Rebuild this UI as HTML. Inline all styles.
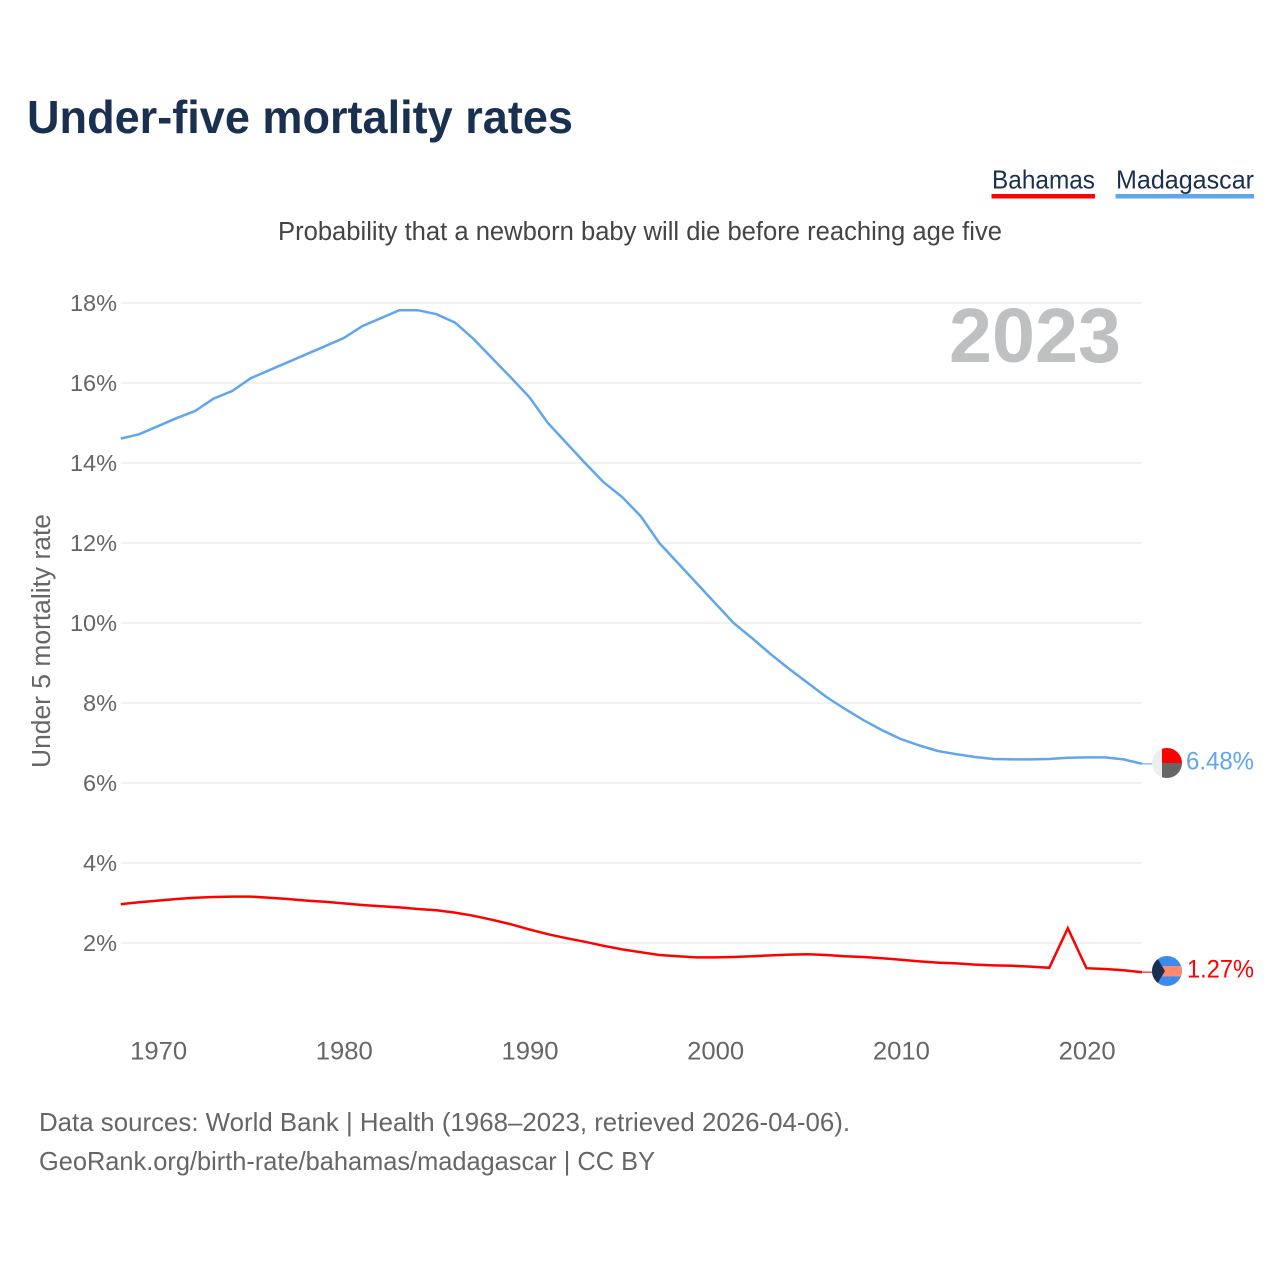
<!DOCTYPE html>
<html lang="en">
<head>
<meta charset="utf-8">
<title>Under-five mortality rates</title>
<style>
html,body{margin:0;padding:0;background:#fff;}
svg{display:block;font-family:"Liberation Sans",sans-serif;}
</style>
</head>
<body>
<svg id="chart" width="1280" height="1280" viewBox="0 0 1280 1280" xmlns="http://www.w3.org/2000/svg">
  <defs>
    <clipPath id="flag-clip-mg"><circle cx="1167" cy="763" r="15"/></clipPath>
    <clipPath id="flag-clip-bs"><circle cx="1167" cy="971" r="15"/></clipPath>
  </defs>
  <rect width="1280" height="1280" fill="#fff"/>
  <text x="27" y="133" font-size="46" font-weight="700" fill="#1a3050" textLength="546" lengthAdjust="spacingAndGlyphs">Under-five mortality rates</text>
  <text x="992" y="188.5" font-size="26" fill="#1a3050" textLength="103" lengthAdjust="spacingAndGlyphs">Bahamas</text>
  <rect x="991.5" y="194" width="103.5" height="4.5" fill="#ff0000"/>
  <text x="1116" y="188.5" font-size="26" fill="#1a3050" textLength="138" lengthAdjust="spacingAndGlyphs">Madagascar</text>
  <rect x="1115.5" y="194" width="138.5" height="4.5" fill="#60a5ee"/>
  <text x="278" y="240" font-size="25.5" fill="#444" textLength="724" lengthAdjust="spacingAndGlyphs">Probability that a newborn baby will die before reaching age five</text>
  <g id="grid"></g>
  <g id="y-ticks"></g>
  <g id="x-ticks"></g>
  <text transform="translate(50,768) rotate(-90)" font-size="25.5" fill="#666" textLength="254" lengthAdjust="spacingAndGlyphs">Under 5 mortality rate</text>
  <text x="949" y="362" font-size="77" font-weight="700" fill="#bfc0c2" textLength="172" lengthAdjust="spacingAndGlyphs">2023</text>
  <g id="series"></g>
  <g clip-path="url(#flag-clip-mg)">
    <rect x="1152" y="748" width="15" height="30" fill="#eeeeee"/>
    <rect x="1162" y="748" width="20" height="15" fill="#ff0000"/>
    <rect x="1162" y="763" width="20" height="15" fill="#666666"/>
  </g>
  <g clip-path="url(#flag-clip-bs)">
    <rect x="1152" y="956" width="30" height="30" fill="#3b8bee"/>
    <rect x="1152" y="966" width="30" height="10.5" fill="#ff8a6e"/>
    <polygon points="1152,956 1156,956 1165,971 1156,986 1152,986" fill="#1a3050"/>
  </g>
  <text x="1186" y="769.5" font-size="25" fill="#60a5ee" textLength="68" lengthAdjust="spacingAndGlyphs">6.48%</text>
  <text x="1187" y="977.5" font-size="25" fill="#ff0000" textLength="67" lengthAdjust="spacingAndGlyphs">1.27%</text>
  <text x="39" y="1131" font-size="26" fill="#666" textLength="811" lengthAdjust="spacingAndGlyphs">Data sources: World Bank | Health (1968–2023, retrieved 2026-04-06).</text>
  <text x="39" y="1170" font-size="26" fill="#666" textLength="616" lengthAdjust="spacingAndGlyphs">GeoRank.org/birth-rate/bahamas/madagascar | CC BY</text>
</svg>
<script>
const startYear = 1968;
const yTickValues = [2, 4, 6, 8, 10, 12, 14, 16, 18];
const xTickYears = [1970, 1980, 1990, 2000, 2010, 2020];
const madagascar = [14.61,14.72,14.92,15.12,15.30,15.61,15.80,16.12,16.32,16.52,16.72,16.92,17.12,17.42,17.62,17.82,17.82,17.72,17.51,17.10,16.62,16.14,15.65,15.00,14.50,14.00,13.52,13.15,12.67,12.00,11.50,11.00,10.50,10.00,9.62,9.22,8.85,8.50,8.15,7.85,7.57,7.32,7.10,6.94,6.80,6.72,6.65,6.60,6.59,6.59,6.60,6.63,6.64,6.64,6.59,6.48];
const bahamas = [2.97,3.02,3.06,3.10,3.13,3.15,3.16,3.16,3.13,3.10,3.06,3.03,2.99,2.95,2.92,2.89,2.85,2.82,2.76,2.68,2.58,2.47,2.34,2.22,2.12,2.03,1.93,1.84,1.77,1.70,1.67,1.64,1.64,1.65,1.67,1.69,1.71,1.72,1.70,1.67,1.65,1.62,1.58,1.54,1.51,1.49,1.46,1.44,1.43,1.41,1.38,2.37,1.37,1.35,1.32,1.27];

const NS = 'http://www.w3.org/2000/svg';
function xScale(year) { return 157.9 + (year - 1970) * 18.57; }
function yScale(value) { return 1023 - value * 40; }
function make(tag, attrs, parent, text) {
  const el = document.createElementNS(NS, tag);
  for (const k in attrs) el.setAttribute(k, attrs[k]);
  if (text !== undefined) el.textContent = text;
  parent.appendChild(el);
  return el;
}
const gridG = document.getElementById('grid');
const yG = document.getElementById('y-ticks');
const xG = document.getElementById('x-ticks');
const seriesG = document.getElementById('series');
const endYear = startYear + madagascar.length - 1;

yTickValues.forEach(function (v) {
  const line = make('line', {x1: xScale(startYear), x2: xScale(endYear), y1: yScale(v), y2: yScale(v), stroke: '#eeeeee', 'stroke-width': 1.5}, gridG);
  
  
  const label = make('text', {x: 117, y: yScale(v) + 8, 'text-anchor': 'end', 'font-size': 23.5, fill: '#666'}, yG, v + '%');
  
  
});

xTickYears.forEach(function (yr) {
  const label = make('text', {x: xScale(yr) - 27.8, y: 1059.5, 'font-size': 25, fill: '#666', textLength: 57, lengthAdjust: 'spacingAndGlyphs'}, xG, String(yr));
  
  
});

function drawSeries(values, color, name) {
  const pts = values.map(function (v, i) { return xScale(startYear + i).toFixed(2) + ',' + yScale(v).toFixed(2); });
  const lastY = yScale(values[values.length - 1]);
  const conn = make('line', {x1: xScale(endYear), x2: 1152, y1: lastY, y2: lastY, stroke: color, 'stroke-width': 1.5, opacity: 0.7}, seriesG);
  
  
  const line = make('polyline', {points: pts.join(' '), fill: 'none', stroke: color, 'stroke-width': 2.5, 'stroke-linejoin': 'miter'}, seriesG);
  
  
}
drawSeries(madagascar, '#60a5ee', 'series-line-madagascar');
drawSeries(bahamas, '#ff0000', 'series-line-bahamas');
</script>
</body>
</html>
